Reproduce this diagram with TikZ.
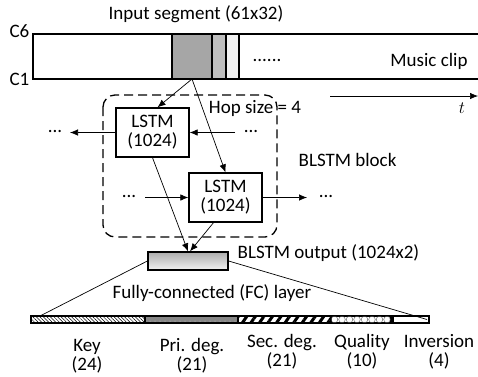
\documentclass[tikz,border=0pt]{standalone}
\usepackage{fontspec}
\setmainfont{Carlito}
\usetikzlibrary{arrows.meta,patterns.meta}

\tikzset{
  box/.style={line width=1.3pt},
  lstm/.style={draw,box,fill=white,minimum width=73,minimum height=49,align=center},
  seg/.style={draw,box,anchor=north west,minimum height=45,inner sep=0,outer sep=0},
  fc/.style={draw,box,anchor=west,minimum height=7,inner sep=0,outer sep=0},
  lbl/.style={align=center,inner sep=0}
}

\begin{document}
\begin{tikzpicture}[x=1pt,y=-1pt,>={Latex[length=8pt,width=6.5pt]},
  line width=0.7pt,font=\fontsize{19}{19}\selectfont]
\useasboundingbox (0,0) rectangle (478,376);

% music clip and the input segment
\draw[box] (480,34) -- (33,34) -- (33,79) -- (480,79);
\node[anchor=east] (c6) at (33,31) {C6};
\node[anchor=east] (c1) at (33,79) {C1};
\node[seg,fill=gray!70,minimum width=40] (seg) at (172,34) {};
\node[seg,fill=gray!50,minimum width=14,line width=1.6pt] (hop) at (212,34) {};
\node[seg,fill=gray!10,minimum width=13] (nxt) at (226,34) {};
\node (dots) at (267,60) {......};
\node (clip) at (429,61) {Music clip};
\node (inseg) at (196,14) {Input segment (61x32)};

\coordinate (t0) at (330,96);
\coordinate (t1) at (478,96);
\draw[->] (t0) -- (t1);
\node (t) at (462,108) {$t$};

% BLSTM block
\draw[box,dash pattern=on 9pt off 5pt,rounded corners=12] (103,95) rectangle (277,237);
\node[lstm] (lstma) at (152.5,132.5) {LSTM\\(1024)};
\node[lstm] (lstmb) at (225.5,197.5) {LSTM\\(1024)};
\node (hopsize) at (255,108) {Hop size = 4};
\node[anchor=west] (block) at (295,160) {BLSTM block};

\node (la) at (55,131) {...};
\node (ra) at (251,131) {...};
\node (lb) at (129,196) {...};
\node (rb) at (326,196) {...};
\draw[->] (lstma.west) -- (70,132.5);
\draw[->] (235,132.5) -- (lstma.east);
\draw[->] (145,197.5) -- (lstmb.west);
\draw[->] (lstmb.east) -- (307,197.5);

\draw[->] (seg.south) -- ([xshift=5]lstma.north);
\draw[->] (seg.south) -- (lstmb.north);

% BLSTM output
\node[draw,box,top color=gray!65,bottom color=gray!10,minimum width=80,minimum height=18,inner sep=0] (out) at (188,261) {};
\node[anchor=west] (outlbl) at (234,253) {BLSTM output (1024x2)};
\draw[->] (lstma.south) -- (out.north);
\draw[->] ([xshift=-12]lstmb.south) -- ([xshift=2]out.north);

% FC layer
\node (fclbl) at (212,293) {Fully-connected (FC) layer};
\node[fc,minimum width=114,pattern={Lines[angle=-45,distance=2.5pt,line width=0.5pt]}] (key) at (31,319.5) {};
\node[fc,minimum width=93,preaction={fill=gray!95},pattern={Dots[radius=0.5pt,distance=5pt]},pattern color=gray!40] (pri) at (145,319.5) {};
\node[fc,minimum width=93,pattern={Lines[angle=55,distance=7pt,line width=3pt]}] (sec) at (238,319.5) {};
\node[fc,minimum width=60] (qual) at (331,319.5) {};
\node[fc,minimum width=36] (inv) at (393,319.5) {};
\foreach \i in {0,...,7}
{
   \draw[gray!70!black,line width=0.4pt] (334.5+\i*7.5,319.5) circle [radius=3.3];
}
\draw (out.west) -- ([xshift=9]key.north west);
\draw (out.east) -- ([xshift=-2]inv.east);

\node[lbl] (keylbl) at (87,356) {Key\\(24)};
\node[lbl] (prilbl) at (192,356) {Pri. deg.\\(21)};
\node[lbl] (seclbl) at (282,352) {Sec. deg.\\(21)};
\node[lbl] (quallbl) at (362,352) {Quality\\(10)};
\node[lbl] (invlbl) at (439,352) {Inversion\\(4)};
\end{tikzpicture}
\end{document}
